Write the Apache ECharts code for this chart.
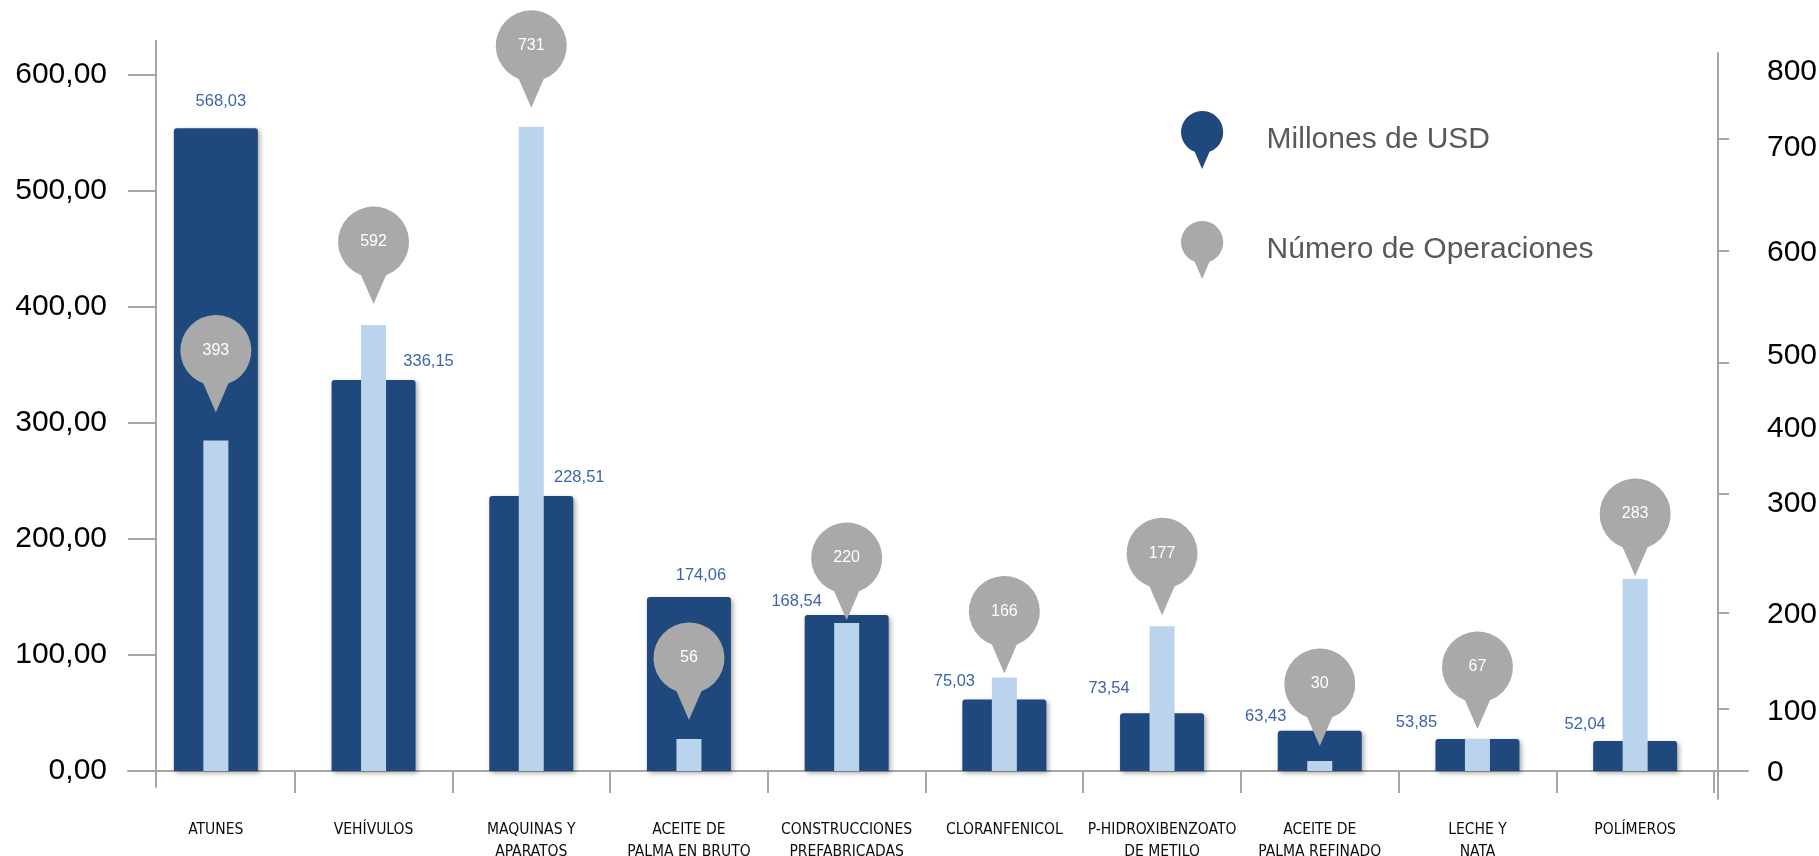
<!DOCTYPE html>
<html>
<head>
<meta charset="utf-8">
<script src="https://cdn.jsdelivr.net/npm/echarts@6/dist/echarts.min.js"></script>
<style>
html,body{margin:0;padding:0;background:#fff;}
#chart{width:1819px;height:856px;}
</style>
</head>
<body>
<div id="chart"></div>
<script>
// ---- data ----
const categories = ['ATUNES', 'VEHÍVULOS', 'MAQUINAS Y\nAPARATOS', 'ACEITE DE\nPALMA EN BRUTO',
  'CONSTRUCCIONES\nPREFABRICADAS', 'CLORANFENICOL', 'P-HIDROXIBENZOATO\nDE METILO',
  'ACEITE DE\nPALMA REFINADO', 'LECHE Y\nNATA', 'POLÍMEROS'];
// printed values (Millones de USD)
const usdValues = [568.03, 336.15, 228.51, 174.06, 168.54, 75.03, 73.54, 63.43, 53.85, 52.04];
// bar heights as drawn in the picture (left axis units)
const usdBarHeights = [554, 337, 237, 150, 134.5, 61.6, 49.7, 34.7, 27.6, 25.9];
// printed values (Número de Operaciones)
const operaciones = [393, 592, 731, 56, 220, 166, 177, 30, 67, 283];
// light bar heights as drawn in the picture (left axis units)
const operacionesBarHeights = [285, 384.5, 555.4, 27.6, 127.6, 80.7, 124.7, 8.6, 27.6, 165.5];
// left axis ticks
const leftTicks = [0, 100, 200, 300, 400, 500, 600];
// right axis tick labels and where the picture puts them (in left-axis units)
const rightTickLabels = ['0', '100', '200', '300', '400', '500', '600', '700', '800'];
const rightLabelAt = [-1.7, 50.7, 134.5, 230.2, 295.5, 357.8, 446.6, 537.1, 602.6];
const rightTickAt = [0, 53.4, 136.0, 239.4, 352.3, 448.3, 544.8];

// ---- layout / style tweaks ----
const usdLabelOffsets = [[5, -27], [55, -19], [48, -19], [12, -22], [-50, -14], [-50, -18], [-53, -25], [-54, -14], [-61, -17], [-50, -17]];
const pinGaps = [28, 21, 19, 19, 3, 4, 11, 15, 10, 3];

const DARK = '#1f497d';
const LIGHT = '#b9d4ec';
const PIN = '#a9a9a9';
const AXIS = '#a6a6a6';
const PIN_PATH = 'path://M -12.5 33.2 A 35.5 35.5 0 1 1 12.5 33.2 L 0 62 Z';
const PIN_W = 71, PIN_H = 97.5;
const PIN_CENTER_SHIFT = 13.25; // circle centre above symbol centre
const PIN_TIP = 48.75;          // tip below symbol centre

const fmt = v => v.toFixed(2).replace('.', ',');

const chart = echarts.init(document.getElementById('chart'), null, {renderer: 'canvas'});

const noTicks = {show: false};
const option = {
  backgroundColor: '#ffffff',
  animation: false,
  textStyle: {fontFamily: 'Liberation Sans'},
  legend: {
    orient: 'vertical',
    left: 1176,
    top: 106,
    itemWidth: 43,
    itemHeight: 58,
    itemGap: 52,
    selectedMode: false,
    textStyle: {fontSize: 30, color: '#595959', fontFamily: 'Liberation Sans', padding: [0, 0, 0, 38]},
    data: [
      {name: 'Millones de USD', icon: PIN_PATH, itemStyle: {color: DARK, shadowBlur: 0, shadowOffsetX: 0, shadowOffsetY: 0}},
      {name: 'Número de Operaciones', icon: PIN_PATH, itemStyle: {color: PIN}}
    ]
  },
  grid: [
    {left: 137, right: 105, top: 41, bottom: 85, containLabel: false, outerBoundsMode: 'none'},
    {left: 128, right: 71, top: 53, bottom: 57, containLabel: false, outerBoundsMode: 'none'},
    {left: 156, right: 1000, top: 41, bottom: 69, containLabel: false, outerBoundsMode: 'none'}
  ],
  xAxis: [
    {
      type: 'category', gridIndex: 0, data: categories,
      axisLine: {show: true, onZero: false, lineStyle: {color: AXIS, width: 2}},
      axisTick: {show: true, length: 22, interval: (idx) => idx !== 0, lineStyle: {color: AXIS, width: 2}},
      minorTick: noTicks,
      axisLabel: {
        interval: 0, margin: 48, fontSize: 15.5, lineHeight: 22, color: '#0d0d0d',
        fontFamily: "'DejaVu Sans Condensed', 'Liberation Sans Narrow', 'Liberation Sans'"
      }
    },
    {type: 'category', gridIndex: 0, data: categories, show: false},
    {
      type: 'value', gridIndex: 1, min: 0, max: 1,
      axisLine: {show: true, onZero: true, lineStyle: {color: AXIS, width: 2}},
      axisTick: noTicks, minorTick: noTicks, axisLabel: {show: false}, splitLine: {show: false}
    },
    {type: 'value', gridIndex: 2, min: 0, max: 1, show: false}
  ],
  yAxis: [
    {
      type: 'value', gridIndex: 0, position: 'left', offset: -19,
      min: 0, max: 629.3,
      axisLine: {show: true, onZero: false, lineStyle: {color: AXIS, width: 2}},
      axisTick: {show: true, inside: false, length: 28, customValues: leftTicks, lineStyle: {color: AXIS, width: 2}},
      minorTick: noTicks,
      axisLabel: {customValues: leftTicks, formatter: v => fmt(v), fontSize: 30, color: '#000', margin: 49},
      splitLine: {show: false}
    },
    {
      type: 'value', gridIndex: 1, position: 'right', offset: -30,
      min: -24.14, max: 619.0,
      axisLine: {show: true, onZero: false, lineStyle: {color: AXIS, width: 2}},
      axisTick: {show: true, inside: false, length: 11, customValues: rightTickAt, lineStyle: {color: AXIS, width: 2}},
      minorTick: noTicks,
      axisLabel: {
        customValues: rightLabelAt,
        formatter: function (v) {
          let best = 0, d = Infinity;
          rightLabelAt.forEach((p, i) => { if (Math.abs(p - v) < d) { d = Math.abs(p - v); best = i; } });
          return rightTickLabels[best];
        },
        fontSize: 30, color: '#000', margin: 49
      },
      splitLine: {show: false}
    },
    {
      type: 'value', gridIndex: 2, position: 'left', min: 0, max: 1,
      axisLine: {show: true, onZero: false, lineStyle: {color: AXIS, width: 2}},
      axisTick: noTicks, minorTick: noTicks, axisLabel: {show: false}, splitLine: {show: false}
    }
  ],
  series: [
    {
      name: 'Millones de USD', type: 'bar', xAxisIndex: 0, yAxisIndex: 0,
      barWidth: 84, z: 2,
      itemStyle: {color: DARK, borderRadius: [3, 3, 0, 0], shadowBlur: 5, shadowColor: 'rgba(0,0,0,0.35)', shadowOffsetX: 2, shadowOffsetY: 2},
      data: usdBarHeights.map((h, i) => ({
        value: h,
        label: {
          show: true, position: 'top', distance: 0, align: 'center', verticalAlign: 'middle',
          offset: usdLabelOffsets[i],
          formatter: () => fmt(usdValues[i]),
          color: '#3b64ad', fontSize: 16.5, fontFamily: 'Liberation Sans'
        }
      }))
    },
    {
      name: 'Operaciones barras', type: 'bar', xAxisIndex: 1, yAxisIndex: 0,
      barWidth: 25, z: 3,
      itemStyle: {color: LIGHT},
      data: operacionesBarHeights
    },
    {
      name: 'Número de Operaciones', type: 'scatter', xAxisIndex: 1, yAxisIndex: 0,
      z: 5, symbol: PIN_PATH, symbolSize: [PIN_W, PIN_H],
      itemStyle: {color: PIN, opacity: 1},
      data: operacionesBarHeights.map((h, i) => ({
        value: h,
        symbolOffset: [0, -(PIN_TIP + pinGaps[i])]
      })),
      label: {
        show: true, position: 'inside', offset: [0, -PIN_CENTER_SHIFT],
        formatter: p => String(operaciones[p.dataIndex]),
        color: '#ffffff', fontSize: 16, fontFamily: 'Liberation Sans'
      },
      emphasis: {disabled: true}
    }
  ]
};
chart.setOption(option);
</script>
</body>
</html>
